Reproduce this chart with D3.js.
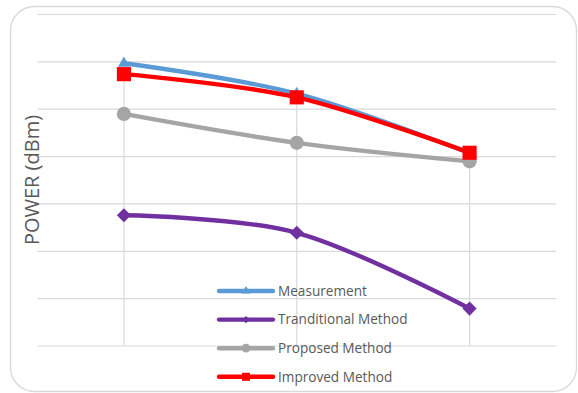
<!DOCTYPE html>
<html>
<head>
<meta charset="utf-8">
<script src="https://cdn.jsdelivr.net/npm/d3@7/dist/d3.min.js"></script>
<style>
  html, body { margin: 0; padding: 0; background: #ffffff; }
  svg { display: block; }
</style>
</head>
<body>
<svg id="chart" width="578" height="393"></svg>
<script>
// Test points along the x axis (axis labels are hidden on this chart)
const categories = ["P1", "P2", "P3"];

// Received power per method, in dBm
const measurement = [-20.4, -26.8, -39.4];
const traditional = [-52.5, -56.2, -72.2];
const proposed    = [-31.1, -37.2, -41.1];
const improved    = [-22.7, -27.6, -39.3];

const seriesNames = ["Measurement", "Tranditional Method", "Proposed Method", "Improved Method"];
const yTicks = [-80, -70, -60, -50, -40, -30, -20, -10];

// Diamonds are squares turned by 45 degrees
const series = [
  { name: seriesNames[0], values: measurement, color: "#5B9BD5", marker: d3.symbolTriangle, size: 60,  legendSize: 34, rot: 0 },
  { name: seriesNames[1], values: traditional, color: "#7030A0", marker: d3.symbolSquare,   size: 100, legendSize: 26, rot: 45 },
  { name: seriesNames[2], values: proposed,    color: "#A5A5A5", marker: d3.symbolCircle,   size: 160, legendSize: 60, rot: 0 },
  { name: seriesNames[3], values: improved,    color: "#FF0000", marker: d3.symbolSquare,   size: 200, legendSize: 64, rot: 0 }
];

const svg = d3.select("#chart");
const plot = { left: 37.5, right: 556, top: 14, bottom: 345.5 };

// Outer chart frame
svg.append("rect")
  .attr("x", 10.5).attr("y", 6.5)
  .attr("width", 566).attr("height", 385)
  .attr("rx", 24).attr("ry", 24)
  .attr("fill", "#ffffff")
  .attr("stroke", "#d9d9d9")
  .attr("stroke-width", 1.3);

const x = d3.scaleBand().domain(categories).range([plot.left, plot.right]);
const y = d3.scaleLinear().domain([-80, -10]).range([plot.bottom, plot.top]);
const cx = c => x(c) + x.bandwidth() / 2;

// Horizontal gridlines
svg.append("g")
  .attr("transform", `translate(${plot.left},0)`)
  .call(d3.axisLeft(y).tickValues(yTicks).tickSize(-(plot.right - plot.left)).tickFormat(""))
  .call(g => g.select(".domain").remove())
  .call(g => g.selectAll(".tick line").attr("stroke", "#d9d9d9").attr("stroke-width", 1.2));

// Drop lines from the highest point of each category down to the axis
const dropGroup = svg.append("g");
categories.forEach((c, i) => {
  const top = d3.max(series, s => s.values[i]);
  dropGroup.append("line")
    .attr("x1", cx(c)).attr("x2", cx(c))
    .attr("y1", y(top)).attr("y2", plot.bottom)
    .attr("stroke", "#d9d9d9").attr("stroke-width", 1.2);
});

// Series lines and markers
const line = d3.line()
  .x((d, i) => cx(categories[i]))
  .y(d => y(d))
  .curve(d3.curveCardinal.tension(0));

series.forEach(s => {
  const g = svg.append("g");
  g.append("path")
    .datum(s.values)
    .attr("d", line)
    .attr("fill", "none")
    .attr("stroke", s.color)
    .attr("stroke-width", 4.4)
    .attr("stroke-linejoin", "round");
  g.selectAll("path.m")
    .data(s.values)
    .join("path")
    .attr("class", "m")
    .attr("d", d3.symbol(s.marker, s.size))
    .attr("transform", (d, i) => `translate(${cx(categories[i])},${y(d)}) rotate(${s.rot})`)
    .attr("fill", s.color);
});

// Y axis title
svg.append("text")
  .attr("transform", "translate(39,180) rotate(-90)")
  .attr("text-anchor", "middle")
  .attr("font-family", "'Open Sans', sans-serif")
  .attr("font-size", 20)
  .attr("fill", "#595959")
  .text("POWER (dBm)");

// Legend
const legend = svg.append("g");
const legendX1 = 219, legendX2 = 273, legendY0 = 291, legendStep = 28.6;
series.forEach((s, i) => {
  const ly = legendY0 + i * legendStep;
  legend.append("line")
    .attr("x1", legendX1).attr("x2", legendX2)
    .attr("y1", ly).attr("y2", ly)
    .attr("stroke", s.color).attr("stroke-width", 4.4)
    .attr("stroke-linecap", "round");
  legend.append("path")
    .attr("d", d3.symbol(s.marker, s.legendSize))
    .attr("transform", `translate(${(legendX1 + legendX2) / 2},${ly}) rotate(${s.rot})`)
    .attr("fill", s.color);
  legend.append("text")
    .attr("x", 278).attr("y", ly)
    .attr("dy", "0.35em")
    .attr("font-family", "'Open Sans', sans-serif")
    .attr("font-size", 13.6)
    .attr("fill", "#595959")
    .text(s.name);
});
</script>
</body>
</html>
